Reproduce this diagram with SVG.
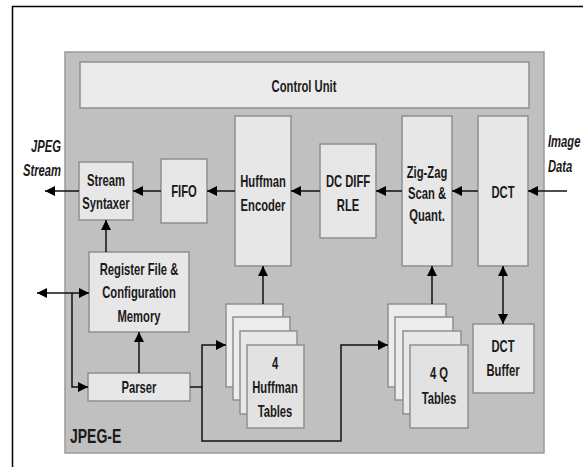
<svg xmlns="http://www.w3.org/2000/svg" width="583" height="467" viewBox="0 0 583 467">
<defs>
<style>
.box{fill:#e7e7e7;stroke:#8f8f8f;stroke-width:1.5}
.t{font-family:"Liberation Sans",Arial,sans-serif;font-weight:bold;font-size:17px;fill:#1a1a1a;text-anchor:middle}
.ti{font-style:italic}
.c{fill:none;stroke:#111;stroke-width:1.5}
</style>
<marker id="ah" viewBox="0 0 10 10" refX="10" refY="5" markerWidth="10" markerHeight="10" markerUnits="userSpaceOnUse" orient="auto-start-reverse">
<path d="M0,0 L10,5 L0,10 z" fill="#000"/>
</marker>
</defs>
<rect width="583" height="467" fill="#fff"/>
<path d="M12.5,467 V6.5 H583" fill="none" stroke="#000" stroke-width="1.5"/>
<g id="jpeg-e">
<rect x="65" y="52" width="479" height="401" fill="#c0c0c0" stroke="#9a9a9a" stroke-width="1.5"/>
<text class="t" transform="matrix(0.7,0,0,1,70,443)" style="font-size:20px;text-anchor:start">JPEG-E</text>
</g>
<g id="control-unit">
<rect class="box" x="80" y="62" width="449" height="46" style="fill:#ebebeb"/>
<text class="t" transform="matrix(0.66,0,0,1,304,92)">Control Unit</text>
</g>
<g id="stream-syntaxer">
<rect class="box" x="79" y="162" width="54" height="58"/>
<text class="t" transform="matrix(0.66,0,0,1,106,186)">Stream</text>
<text class="t" transform="matrix(0.66,0,0,1,106,209)">Syntaxer</text>
</g>
<g id="fifo">
<rect class="box" x="161" y="159" width="46" height="64"/>
<text class="t" transform="matrix(0.66,0,0,1,184,197)">FIFO</text>
</g>
<g id="huffman-encoder">
<rect class="box" x="235" y="116" width="56" height="150"/>
<text class="t" transform="matrix(0.66,0,0,1,263,187)">Huffman</text>
<text class="t" transform="matrix(0.66,0,0,1,263,211)">Encoder</text>
</g>
<g id="dc-diff-rle">
<rect class="box" x="320" y="144" width="56" height="94"/>
<text class="t" transform="matrix(0.66,0,0,1,348,187)">DC DIFF</text>
<text class="t" transform="matrix(0.66,0,0,1,348,211)">RLE</text>
</g>
<g id="zigzag">
<rect class="box" x="402" y="116" width="50" height="150"/>
<text class="t" transform="matrix(0.66,0,0,1,427,178)">Zig-Zag</text>
<text class="t" transform="matrix(0.66,0,0,1,427,199)">Scan &amp;</text>
<text class="t" transform="matrix(0.66,0,0,1,427,221)">Quant.</text>
</g>
<g id="dct">
<rect class="box" x="478" y="116" width="50" height="150"/>
<text class="t" transform="matrix(0.66,0,0,1,503,198)">DCT</text>
</g>
<g id="register-file">
<rect class="box" x="89" y="252" width="100" height="80"/>
<text class="t" transform="matrix(0.66,0,0,1,139,275)">Register File &amp;</text>
<text class="t" transform="matrix(0.66,0,0,1,139,298)">Configuration</text>
<text class="t" transform="matrix(0.66,0,0,1,139,322)">Memory</text>
</g>
<g id="parser">
<rect class="box" x="88" y="373" width="102" height="28"/>
<text class="t" transform="matrix(0.66,0,0,1,139,393)">Parser</text>
</g>
<g id="huffman-tables">
<rect class="box" x="226" y="304" width="57" height="83" style="fill:#ececec"/>
<rect class="box" x="233" y="317" width="57" height="83" style="fill:#ececec"/>
<rect class="box" x="240" y="331" width="57" height="83" style="fill:#e8e8e8"/>
<rect class="box" x="247" y="345" width="57" height="83" style="fill:#e2e2e2"/>
<text class="t" transform="matrix(0.66,0,0,1,275,369)">4</text>
<text class="t" transform="matrix(0.66,0,0,1,275,393)">Huffman</text>
<text class="t" transform="matrix(0.66,0,0,1,275,417)">Tables</text>
</g>
<g id="q-tables">
<rect class="box" x="388" y="304" width="58" height="83" style="fill:#ececec"/>
<rect class="box" x="395" y="317" width="58" height="83" style="fill:#ececec"/>
<rect class="box" x="403" y="331" width="58" height="83" style="fill:#e8e8e8"/>
<rect class="box" x="410" y="345" width="58" height="83" style="fill:#e2e2e2"/>
<text class="t" transform="matrix(0.66,0,0,1,439,379)">4 Q</text>
<text class="t" transform="matrix(0.66,0,0,1,439,404)">Tables</text>
</g>
<g id="dct-buffer">
<rect class="box" x="473" y="324" width="61" height="69"/>
<text class="t" transform="matrix(0.66,0,0,1,503,352)">DCT</text>
<text class="t" transform="matrix(0.66,0,0,1,503,376)">Buffer</text>
</g>
<g id="labels">
<text class="t ti" transform="matrix(0.66,0,0,1,61,152)" style="text-anchor:end">JPEG</text>
<text class="t ti" transform="matrix(0.66,0,0,1,61,176)" style="text-anchor:end">Stream</text>
<text class="t ti" transform="matrix(0.66,0,0,1,548,147)" style="text-anchor:start">Image</text>
<text class="t ti" transform="matrix(0.66,0,0,1,548,172)" style="text-anchor:start">Data</text>
</g>
<g id="connectors">
<line class="c" x1="567" y1="191" x2="528" y2="191" marker-end="url(#ah)"/>
<line class="c" x1="478" y1="191" x2="452" y2="191" marker-end="url(#ah)"/>
<line class="c" x1="402" y1="191" x2="376" y2="191" marker-end="url(#ah)"/>
<line class="c" x1="320" y1="191" x2="291" y2="191" marker-end="url(#ah)"/>
<line class="c" x1="235" y1="191" x2="207" y2="191" marker-end="url(#ah)"/>
<line class="c" x1="161" y1="191" x2="133" y2="191" marker-end="url(#ah)"/>
<line class="c" x1="79" y1="191" x2="45" y2="191" marker-end="url(#ah)"/>
<line class="c" x1="106" y1="252" x2="106" y2="220" marker-end="url(#ah)"/>
<line class="c" x1="139" y1="373" x2="139" y2="332" marker-end="url(#ah)"/>
<line class="c" x1="37" y1="293" x2="89" y2="293" marker-start="url(#ah)" marker-end="url(#ah)"/>
<polyline class="c" points="72,293 72,387 88,387" marker-end="url(#ah)"/>
<polyline class="c" points="190,387 202,387 202,345 226,345" marker-end="url(#ah)"/>
<polyline class="c" points="202,387 202,441 341,441 341,345 388,345" marker-end="url(#ah)"/>
<line class="c" x1="263" y1="304" x2="263" y2="266" marker-end="url(#ah)"/>
<line class="c" x1="432" y1="304" x2="432" y2="266" marker-end="url(#ah)"/>
<line class="c" x1="503" y1="266" x2="503" y2="324" marker-start="url(#ah)" marker-end="url(#ah)"/>
</g>
</svg>
